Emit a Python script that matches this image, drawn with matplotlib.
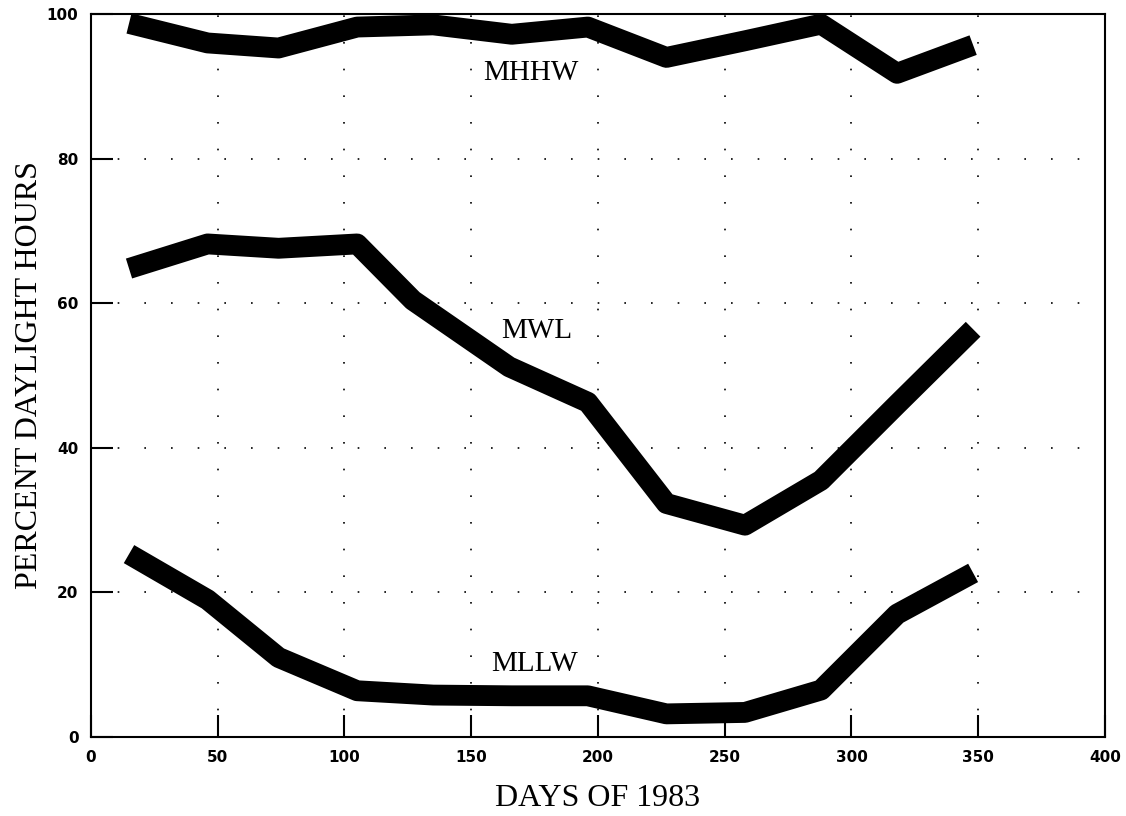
import matplotlib
matplotlib.use('Agg')
import matplotlib.pyplot as plt

# days of year (mid-month) and percent of daylight hours
days = [15, 46, 74, 105, 135, 166, 196, 227, 258, 288, 318, 348]
mwl_days = [15, 46, 74, 105, 127, 165, 196, 227, 258, 288, 318, 348]

mhhw = [98.7, 96.0, 95.3, 98.2, 98.5, 97.2, 98.2, 94.0, 96.3, 98.6, 91.8, 95.7]
mwl = [64.8, 68.2, 67.6, 68.2, 60.4, 51.2, 46.3, 32.3, 29.3, 35.5, 46.0, 56.4]
mllw = [25.3, 19.0, 11.0, 6.4, 5.8, 5.7, 5.7, 3.2, 3.4, 6.5, 17.0, 22.7]

xticks = [0, 50, 100, 150, 200, 250, 300, 350, 400]
yticks = [0, 20, 40, 60, 80, 100]

fig = plt.figure(figsize=(11.26, 8.16), dpi=100)
ax = fig.add_axes([0.0808, 0.0968, 0.9005, 0.886])

# dotted grid
for x in xticks[1:-1]:
    ax.axvline(x, color='black', lw=1.2, ls=(0, (1, 15)), zorder=1)
for y in yticks[1:-1]:
    ax.hlines(y, 0, 390, color='black', lw=1.2, ls=(0, (1, 15)), zorder=1)

for xs, ys in [(days, mhhw), (mwl_days, mwl), (days, mllw)]:
    ax.plot(xs, ys, color='black', lw=15, solid_capstyle='butt',
            solid_joinstyle='round', zorder=3)

serif = 'Liberation Serif'
ax.text(173.5, 91.9, 'MHHW', fontsize=21, family=serif, ha='center', va='center')
ax.text(176, 56.2, 'MWL', fontsize=21, family=serif, ha='center', va='center')
ax.text(175, 10.1, 'MLLW', fontsize=21, family=serif, ha='center', va='center')

ax.set_xlim(0, 400)
ax.set_ylim(0, 100)
ax.set_xticks(xticks)
ax.set_yticks(yticks)
ax.tick_params(direction='in', length=16, width=1.5, labelsize=11, pad=9)
for lab in ax.get_xticklabels() + ax.get_yticklabels():
    lab.set_fontweight('bold')
for s in ax.spines.values():
    s.set_linewidth(1.5)

ax.set_xlabel('DAYS OF 1983', fontsize=23, family=serif, labelpad=14)
ax.set_ylabel('PERCENT DAYLIGHT HOURS', fontsize=23, family=serif)
ax.yaxis.set_label_coords(-0.046, 0.5)

fig.savefig('out.png', dpi=100)
